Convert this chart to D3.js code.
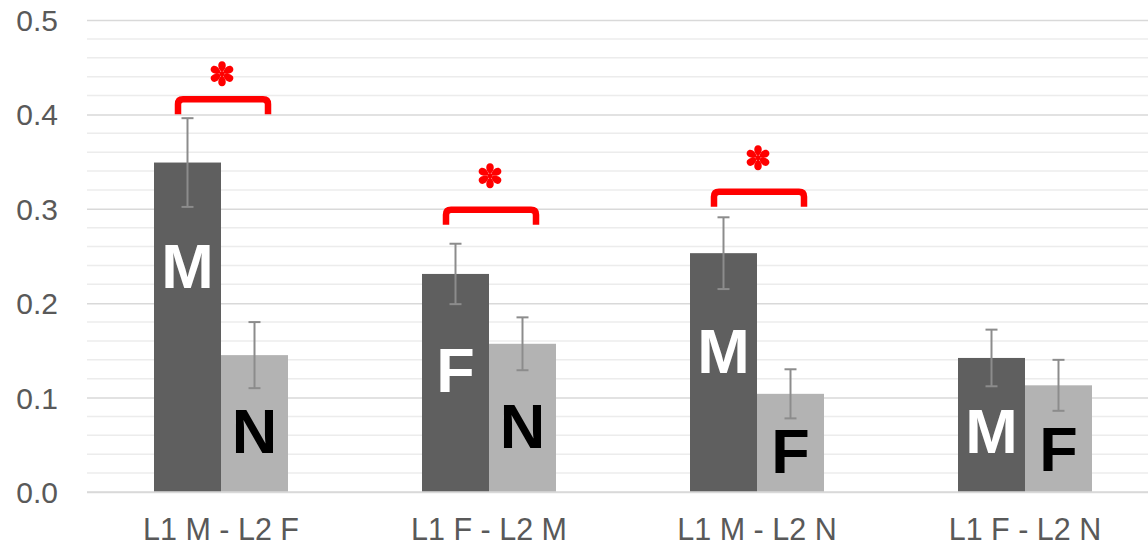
<!DOCTYPE html>
<html><head><meta charset="utf-8">
<script src="https://cdn.jsdelivr.net/npm/d3@7"></script>
<style>html,body{margin:0;padding:0;background:#fff;}svg{display:block;}</style>
</head><body>
<svg id="chart" width="1148" height="546"></svg>
<script>
// ---- data ----
const categories = ["L1 M - L2 F", "L1 F - L2 M", "L1 M - L2 N", "L1 F - L2 N"];
const firstValues  = [0.349, 0.231, 0.253, 0.142];
const firstErrors  = [0.047, 0.032, 0.038, 0.030];
const secondValues = [0.145, 0.157, 0.104, 0.113];
const secondErrors = [0.035, 0.028, 0.026, 0.027];
const firstLetters  = ["M", "F", "M", "M"];
const secondLetters = ["N", "N", "F", "F"];
const firstLetterLevel  = [0.216, 0.106, 0.126, 0.041];
const secondLetterLevel = [0.041, 0.047, 0.020, 0.022];
const significant   = [true, true, true, false];
const bracketLevel  = [0.416, 0.299, 0.318, null];
const asteriskLevel = [0.443, 0.335, 0.354, null];
const yTicks = [0, 0.1, 0.2, 0.3, 0.4, 0.5];
const yMinorTicks = d3.range(0, 0.5001, 0.02);

// ---- layout ----
const svg = d3.select("#chart");
const plotLeft = 87, plotRight = 1159, plotTop = 20, plotBottom = 492;
const y = d3.scaleLinear().domain([0, 0.5]).range([plotBottom, plotTop]);
const x = d3.scaleBand().domain(categories).range([plotLeft, plotRight]).paddingInner(0.5).paddingOuter(0.25);
const xs = d3.scaleBand().domain(["a", "b"]).range([0, x.bandwidth()]);

// minor gridlines
svg.append("g").selectAll("line").data(yMinorTicks.filter(v => Math.abs(v*10 - Math.round(v*10)) > 1e-6))
  .join("line")
  .attr("x1", plotLeft).attr("x2", 1148)
  .attr("y1", d => y(d)).attr("y2", d => y(d))
  .attr("stroke", "#ececec").attr("stroke-width", 1.5);

// major gridlines + axis labels via d3 axis
const yAxis = d3.axisLeft(y).tickValues(yTicks).tickFormat(d3.format(".1f")).tickSize(-(1148 - plotLeft)).tickPadding(29);
const gy = svg.append("g").attr("transform", `translate(${plotLeft},0)`).call(yAxis);
gy.select(".domain").remove();
gy.selectAll(".tick line").attr("stroke", "#d9d9d9").attr("stroke-width", 1.5);
gy.selectAll(".tick text").attr("fill", "#595959").attr("font-family", "Liberation Sans, Arial, sans-serif")
  .attr("font-size", 30).attr("dy", "0.35em");

// bars
const groups = svg.append("g").selectAll("g").data(categories).join("g")
  .attr("transform", d => `translate(${x(d)},0)`);

groups.append("rect")
  .attr("x", xs("a")).attr("width", xs.bandwidth())
  .attr("y", (d, i) => y(firstValues[i])).attr("height", (d, i) => y(0) - y(firstValues[i]))
  .attr("fill", "#5f5f5f");
groups.append("rect")
  .attr("x", xs("b")).attr("width", xs.bandwidth())
  .attr("y", (d, i) => y(secondValues[i])).attr("height", (d, i) => y(0) - y(secondValues[i]))
  .attr("fill", "#b3b3b3");

// error bars
function errBar(sel, key, vals, errs) {
  const cx = xs(key) + xs.bandwidth() / 2;
  const g = sel.append("g").attr("stroke", "#8c8c8c").attr("stroke-width", 2);
  g.append("line").attr("x1", cx).attr("x2", cx)
    .attr("y1", (d, i) => y(vals[i] + errs[i])).attr("y2", (d, i) => y(vals[i] - errs[i]));
  g.append("line").attr("x1", cx - 6).attr("x2", cx + 6)
    .attr("y1", (d, i) => y(vals[i] + errs[i])).attr("y2", (d, i) => y(vals[i] + errs[i]));
  g.append("line").attr("x1", cx - 6).attr("x2", cx + 6)
    .attr("y1", (d, i) => y(vals[i] - errs[i])).attr("y2", (d, i) => y(vals[i] - errs[i]));
}
errBar(groups, "a", firstValues, firstErrors);
errBar(groups, "b", secondValues, secondErrors);

// letters in bars
const letterFont = "Liberation Sans, Arial, sans-serif";
groups.append("text")
  .attr("x", xs("a") + xs.bandwidth() / 2).attr("y", (d, i) => y(firstLetterLevel[i]))
  .attr("text-anchor", "middle").attr("font-family", letterFont).attr("font-weight", "bold")
  .attr("font-size", 63).attr("fill", "#ffffff").text((d, i) => firstLetters[i]);
groups.append("text")
  .attr("x", xs("b") + xs.bandwidth() / 2).attr("y", (d, i) => y(secondLetterLevel[i]))
  .attr("text-anchor", "middle").attr("font-family", letterFont).attr("font-weight", "bold")
  .attr("font-size", 63).attr("fill", "#000000").text((d, i) => secondLetters[i]);

// significance brackets
const sigGroups = groups.filter((d, i) => significant[i]);
sigGroups.append("path")
  .attr("d", (d) => {
    const i = categories.indexOf(d);
    const x1 = x.bandwidth() / 2 - 43, x2 = x.bandwidth() / 2 + 47;
    const yt = y(bracketLevel[i]), yb = yt + 15, r = 5;
    return `M${x1},${yb}L${x1},${yt + r}Q${x1},${yt} ${x1 + r},${yt}L${x2 - r},${yt}Q${x2},${yt} ${x2},${yt + r}L${x2},${yb}`;
  })
  .attr("fill", "none").attr("stroke", "#ff0000").attr("stroke-width", 6.5);

// significance asterisk: six teardrop petals
const petal = "M0,-1.5C-5,-5 -5,-12.5 0,-12.5C5,-12.5 5,-5 0,-1.5Z";
const stars = sigGroups.append("g")
  .attr("transform", d => `translate(${x.bandwidth() / 2 + 1},${y(asteriskLevel[categories.indexOf(d)])})`);
stars.selectAll("path").data([0, 60, 120, 180, 240, 300]).join("path")
  .attr("d", petal).attr("transform", a => `rotate(${a})`).attr("fill", "#ff0000");
stars.append("circle").attr("r", 2.5).attr("fill", "#ff0000");

// baseline
svg.append("line").attr("x1", plotLeft).attr("x2", 1148).attr("y1", y(0)).attr("y2", y(0))
  .attr("stroke", "#d9d9d9").attr("stroke-width", 1.5);

// x axis labels
const xAxis = d3.axisBottom(x).tickSize(0).tickPadding(0);
const gx = svg.append("g").attr("transform", `translate(0,540)`).call(xAxis);
gx.select(".domain").remove();
gx.selectAll(".tick text").attr("fill", "#595959").attr("font-family", "Liberation Sans, Arial, sans-serif")
  .attr("font-size", 30.5).attr("dy", 0).attr("y", 0);
</script>
</body></html>
